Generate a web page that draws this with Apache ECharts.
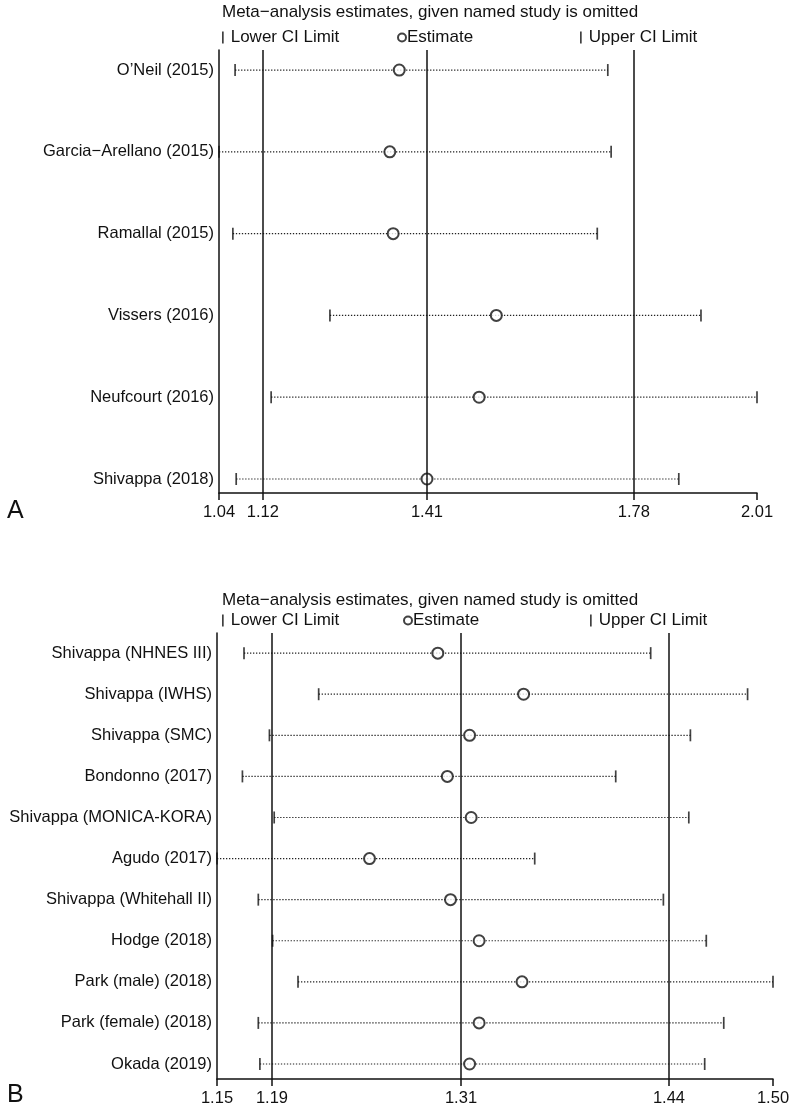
<!DOCTYPE html>
<html>
<head>
<meta charset="utf-8">
<script src="https://cdn.jsdelivr.net/npm/echarts@6/dist/echarts.min.js"></script>
<style>
html,body{margin:0;padding:0;background:#fff;}
#chart{width:800px;height:1108px;}
</style>
</head>
<body>
<div id="chart"></div>
<script>
// ---------- Panel A data ----------
const studiesA = ["O\u2019Neil (2015)", "Garcia\u2212Arellano (2015)", "Ramallal (2015)", "Vissers (2016)", "Neufcourt (2016)", "Shivappa (2018)"];
const lowerA = [1.069, 1.040, 1.065, 1.240, 1.134, 1.071];
const estA   = [1.365, 1.348, 1.354, 1.540, 1.509, 1.415];
const upperA = [1.741, 1.747, 1.722, 1.909, 2.010, 1.869];
const refLinesA = [1.119, 1.415, 1.788];
const tickValsA = [1.04, 1.119, 1.415, 1.788, 2.01];
const tickLabelsA = ["1.04", "1.12", "1.41", "1.78", "2.01"];

// ---------- Panel B data ----------
const studiesB = ["Shivappa (NHNES III)", "Shivappa (IWHS)", "Shivappa (SMC)", "Bondonno (2017)", "Shivappa (MONICA-KORA)", "Agudo (2017)", "Shivappa (Whitehall II)", "Hodge (2018)", "Park (male) (2018)", "Park (female) (2018)", "Okada (2019)"];
const lowerB = [1.167, 1.214, 1.183, 1.166, 1.186, 1.150, 1.176, 1.185, 1.201, 1.176, 1.177];
const estB   = [1.289, 1.343, 1.309, 1.295, 1.310, 1.246, 1.297, 1.315, 1.342, 1.315, 1.309];
const upperB = [1.423, 1.484, 1.448, 1.401, 1.447, 1.350, 1.431, 1.458, 1.500, 1.469, 1.457];
const refLinesB = [1.1846, 1.3036, 1.4345];
const tickValsB = [1.15, 1.1846, 1.3036, 1.4345, 1.50];
const tickLabelsB = ["1.15", "1.19", "1.31", "1.44", "1.50"];

const FONT = '"Liberation Sans", Arial, Helvetica, sans-serif';
const FS_Y = 16.5, FS_X = 16.5, FS_T = 17, FS_L = 17;
const BLACK = '#111';

const chart = echarts.init(document.getElementById('chart'), null, {renderer: 'canvas'});

function xAxisCfg(gridIndex, min, max, vals, labels) {
  return {
    type: 'value', gridIndex, min, max,
    axisLine: {show: true, onZero: false, lineStyle: {color: BLACK, width: 1.5}},
    axisTick: {show: true, customValues: vals, length: 7, lineStyle: {color: BLACK, width: 1.5}},
    axisLabel: {show: true, customValues: vals, margin: 11, color: BLACK, fontSize: FS_X, fontFamily: FONT,
      formatter: v => { const i = vals.indexOf(v); return i >= 0 ? labels[i] : ''; }},
    splitLine: {show: false}
  };
}
function yAxisCfg(gridIndex, names, min, max) {
  return {
    type: 'value', gridIndex, inverse: true, min, max,
    axisLine: {show: true, onZero: false, lineStyle: {color: BLACK, width: 1.5}},
    axisTick: {show: false},
    axisLabel: {show: true, customValues: names.map((_, i) => i), margin: 5, color: BLACK, fontSize: FS_Y, fontFamily: FONT,
      formatter: v => names[v] !== undefined ? names[v] : ''},
    splitLine: {show: false}
  };
}
function panelSeries(idx, lower, est, upper, refLines) {
  const rows = est.map((_, i) => i);
  return [
    {
      type: 'custom', name: 'CI', xAxisIndex: idx, yAxisIndex: idx, silent: true,
      encode: {x: [0, 1], y: 2},
      data: rows.map(i => [lower[i], upper[i], i]),
      renderItem: (params, api) => {
        const p1 = api.coord([api.value(0), api.value(2)]);
        const p2 = api.coord([api.value(1), api.value(2)]);
        return {type: 'line', shape: {x1: p1[0], y1: p1[1], x2: p2[0], y2: p2[1]},
          style: {stroke: '#222', lineWidth: 1.2, lineDash: [1.3, 1.7]}};
      },
      z: 1
    },
    {
      type: 'scatter', name: 'Lower CI Limit', xAxisIndex: idx, yAxisIndex: idx,
      symbol: 'rect', symbolSize: [1.7, 12], itemStyle: {color: BLACK},
      data: rows.map(i => [lower[i], i]), z: 3
    },
    {
      type: 'scatter', name: 'Estimate', xAxisIndex: idx, yAxisIndex: idx,
      symbol: 'emptyCircle', symbolSize: 11,
      itemStyle: {color: BLACK, borderColor: BLACK, borderWidth: 1.7},
      data: rows.map(i => [est[i], i]), z: 4,
      markLine: {
        silent: true, symbol: ['none', 'none'], label: {show: false}, precision: 6,
        lineStyle: {color: BLACK, type: 'solid', width: 1.5},
        emphasis: {disabled: true},
        data: refLines.map(v => ({xAxis: v}))
      }
    },
    {
      type: 'scatter', name: 'Upper CI Limit', xAxisIndex: idx, yAxisIndex: idx,
      symbol: 'rect', symbolSize: [1.7, 12], itemStyle: {color: BLACK},
      data: rows.map(i => [upper[i], i]), z: 3
    }
  ];
}
function legendCfg(name, left, top, icon, w, h) {
  return {
    data: [name], left, top, padding: 0, icon, itemWidth: w, itemHeight: h, itemGap: 0,
    selectedMode: false,
    textStyle: {color: BLACK, fontSize: FS_L, fontFamily: FONT, padding: [0, 0, 0, icon === 'emptyCircle' ? -4 : 2]},
    itemStyle: {color: BLACK, borderColor: BLACK, borderWidth: icon === 'emptyCircle' ? 1.5 : 0}
  };
}

const option = {
  backgroundColor: '#fff',
  animation: false,
  textStyle: {fontFamily: FONT},
  title: [
    {text: 'Meta\u2212analysis estimates, given named study is omitted', left: 222, top: 4, padding: 0,
      textStyle: {fontSize: FS_T, fontWeight: 'normal', color: BLACK, fontFamily: FONT}},
    {text: 'Meta\u2212analysis estimates, given named study is omitted', left: 222, top: 592, padding: 0,
      textStyle: {fontSize: FS_T, fontWeight: 'normal', color: BLACK, fontFamily: FONT}},
    {text: 'A', left: 7, top: 499, padding: 0, textStyle: {fontSize: 25, fontWeight: 'normal', color: BLACK, fontFamily: FONT}},
    {text: 'B', left: 7, top: 1083, padding: 0, textStyle: {fontSize: 25, fontWeight: 'normal', color: BLACK, fontFamily: FONT}}
  ],
  legend: [
    legendCfg('Lower CI Limit', 222, 29, 'rect', 1.7, 12),
    legendCfg('Estimate', 397, 29, 'emptyCircle', 8, 8),
    legendCfg('Upper CI Limit', 580, 29, 'rect', 1.7, 12),
    legendCfg('Lower CI Limit', 222, 612, 'rect', 1.7, 12),
    legendCfg('Estimate', 403, 612, 'emptyCircle', 8, 8),
    legendCfg('Upper CI Limit', 590, 612, 'rect', 1.7, 12)
  ],
  grid: [
    {left: 219, top: 50, width: 538, height: 443, containLabel: false},
    {left: 217, top: 633, width: 556, height: 446, containLabel: false}
  ],
  xAxis: [
    xAxisCfg(0, 1.04, 2.01, tickValsA, tickLabelsA),
    xAxisCfg(1, 1.15, 1.50, tickValsB, tickLabelsB)
  ],
  yAxis: [
    yAxisCfg(0, studiesA, -0.245, 5.171),
    yAxisCfg(1, studiesB, -0.49, 10.365)
  ],
  series: [
    ...panelSeries(0, lowerA, estA, upperA, refLinesA),
    ...panelSeries(1, lowerB, estB, upperB, refLinesB)
  ]
};
chart.setOption(option);
</script>
</body>
</html>
